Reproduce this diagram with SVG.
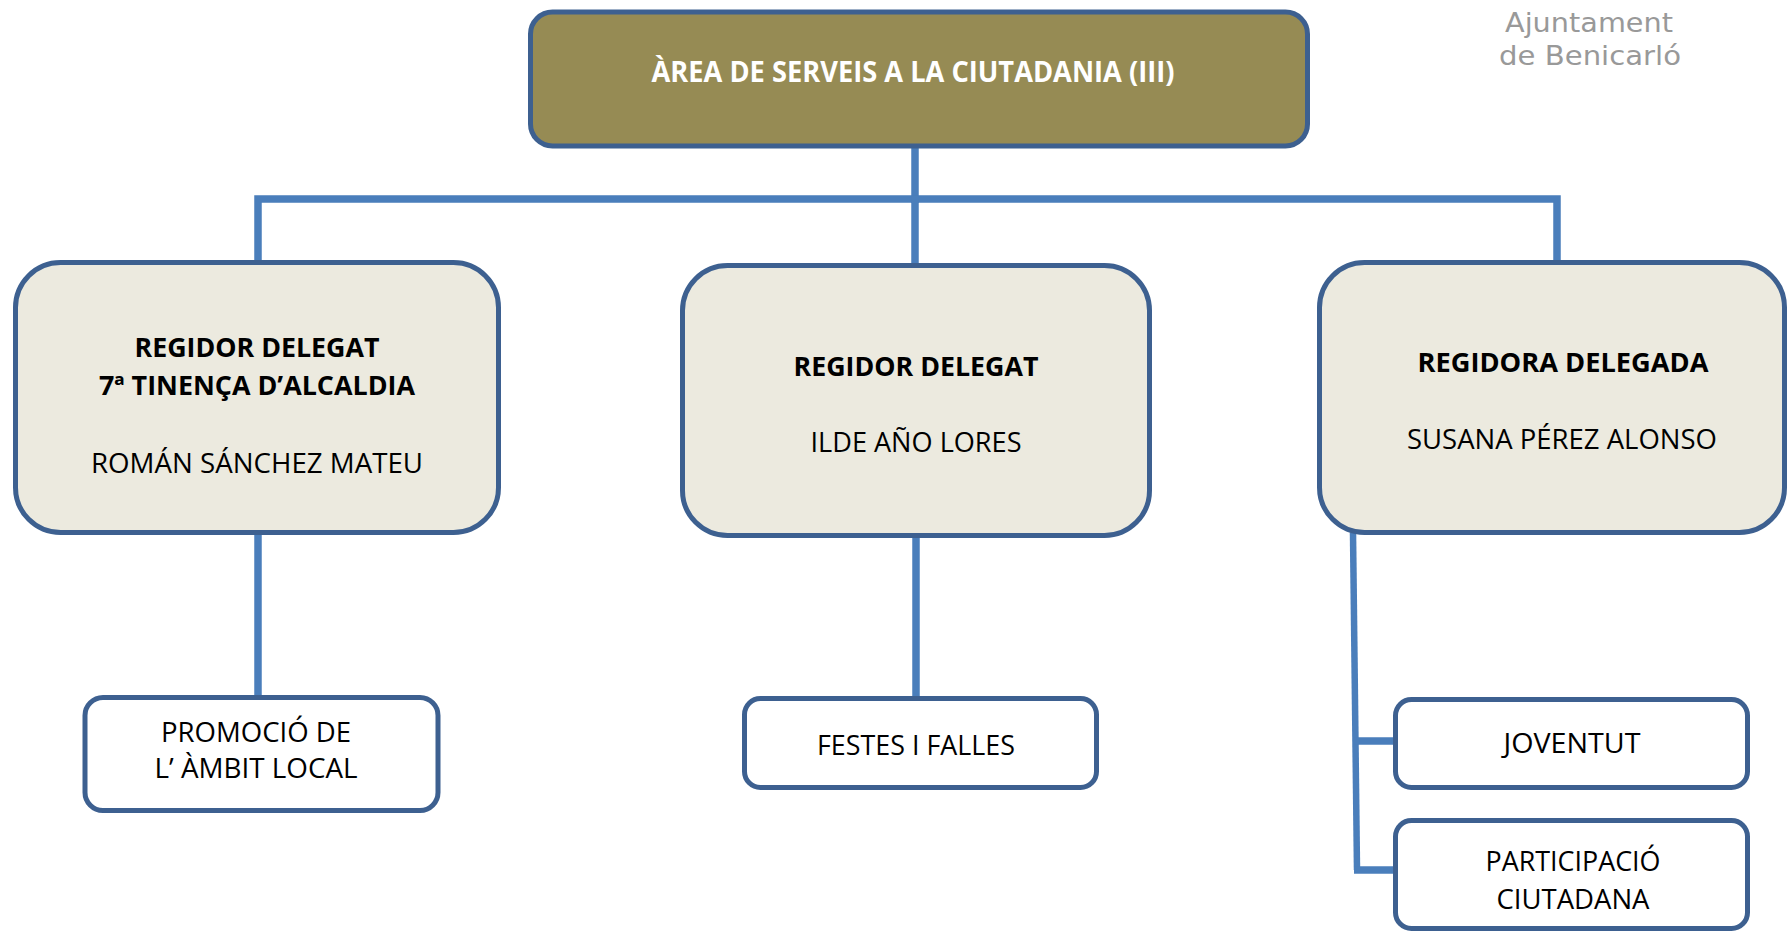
<svg xmlns="http://www.w3.org/2000/svg" width="1787" height="931" viewBox="0 0 1787 931">
<style>
.box{fill:#ECEADF;stroke:#3D6090;stroke-width:5}
.leaf{fill:#FFFFFF;stroke:#3D6090;stroke-width:5}
.title{fill:#968B54;stroke:#3D6090;stroke-width:5}
.conn{fill:none;stroke:#4A7EBB;stroke-width:7.5;stroke-linecap:butt}
.conn2{fill:none;stroke:#4A7EBB;stroke-width:6.5}
text{font-family:"Open Sans","Liberation Sans",sans-serif;text-anchor:middle;fill:#000}
.b{font-weight:bold;font-size:27px}
.r{font-size:28px}
.w{fill:#FFFFFF;font-weight:bold;font-size:28px}
.logo{font-family:"DejaVu Sans",sans-serif;fill:#999999;font-size:27px}
</style>
<rect width="1787" height="931" fill="#FFFFFF"/>
<g id="logo">
<text class="logo" x="1589" y="32" textLength="168" lengthAdjust="spacingAndGlyphs">Ajuntament</text>
<text class="logo" x="1590" y="65" textLength="182" lengthAdjust="spacingAndGlyphs">de Benicarló</text>
</g>
<g id="connectors">
<line class="conn" x1="915" y1="147" x2="915" y2="203"/>
<polyline class="conn" points="258,263 258,199 1557,199 1557,263"/>
<line class="conn" x1="915" y1="199" x2="915" y2="266"/>
<line class="conn" x1="258" y1="533" x2="258" y2="697"/>
<line class="conn" x1="916" y1="536" x2="916" y2="699"/>
<polyline class="conn2" points="1353,533 1357,870"/>
<line class="conn" x1="1354" y1="741" x2="1396" y2="741"/>
<line class="conn" x1="1354" y1="870" x2="1396" y2="870"/>
</g>
<g id="area">
<rect class="title" x="530.5" y="12" width="777" height="134" rx="22"/>
<text class="w" x="913" y="82" textLength="523" lengthAdjust="spacingAndGlyphs">ÀREA DE SERVEIS A LA CIUTADANIA (III)</text>
</g>
<g id="regidor-roman">
<rect class="box" x="15.5" y="262.5" width="483" height="270" rx="45"/>
<text class="b" x="257" y="357" textLength="245" lengthAdjust="spacingAndGlyphs">REGIDOR DELEGAT</text>
<text class="b" x="257" y="395" textLength="316" lengthAdjust="spacingAndGlyphs">7ª TINENÇA D’ALCALDIA</text>
<text class="r" x="257" y="473" textLength="332" lengthAdjust="spacingAndGlyphs">ROMÁN SÁNCHEZ MATEU</text>
</g>
<g id="regidor-ilde">
<rect class="box" x="682.5" y="265.5" width="467" height="270" rx="45"/>
<text class="b" x="916" y="376" textLength="245" lengthAdjust="spacingAndGlyphs">REGIDOR DELEGAT</text>
<text class="r" x="916" y="452" textLength="211" lengthAdjust="spacingAndGlyphs">ILDE AÑO LORES</text>
</g>
<g id="regidora-susana">
<rect class="box" x="1319.5" y="262.5" width="465" height="270" rx="45"/>
<text class="b" x="1563" y="372" textLength="291" lengthAdjust="spacingAndGlyphs">REGIDORA DELEGADA</text>
<text class="r" x="1562" y="449" textLength="310" lengthAdjust="spacingAndGlyphs">SUSANA PÉREZ ALONSO</text>
</g>
<g id="promocio">
<rect class="leaf" x="85" y="697.5" width="353" height="113" rx="18"/>
<text class="r" x="256" y="742" textLength="190" lengthAdjust="spacingAndGlyphs">PROMOCIÓ DE</text>
<text class="r" x="256" y="778" textLength="203" lengthAdjust="spacingAndGlyphs">L’ ÀMBIT LOCAL</text>
</g>
<g id="festes">
<rect class="leaf" x="744.5" y="698.5" width="352" height="89" rx="16"/>
<text class="r" x="916" y="755" textLength="198" lengthAdjust="spacingAndGlyphs">FESTES I FALLES</text>
</g>
<g id="joventut">
<rect class="leaf" x="1395.5" y="699.5" width="352" height="88" rx="16"/>
<text class="r" x="1572" y="753" textLength="137" lengthAdjust="spacingAndGlyphs">JOVENTUT</text>
</g>
<g id="participacio">
<rect class="leaf" x="1395.5" y="820.5" width="352" height="108" rx="16"/>
<text class="r" x="1573" y="871" textLength="175" lengthAdjust="spacingAndGlyphs">PARTICIPACIÓ</text>
<text class="r" x="1573" y="909" textLength="153" lengthAdjust="spacingAndGlyphs">CIUTADANA</text>
</g>
</svg>
